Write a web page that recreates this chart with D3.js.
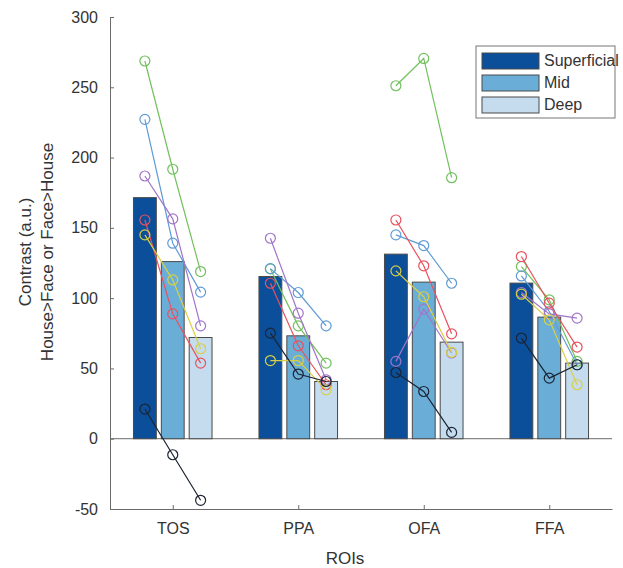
<!DOCTYPE html>
<html>
<head>
<meta charset="utf-8">
<script src="https://cdn.jsdelivr.net/npm/d3@7"></script>
<style>
	body { margin: 0; background: #fff; }
	text { font-family: 'Liberation Sans', Arial, sans-serif; }
</style>
</head>
<body>
<div id="chart"></div>
<script>
	const rois = ['TOS', 'PPA', 'OFA', 'FFA'];
	const depths = ['Superficial', 'Mid', 'Deep'];
	const yTicks = [-50, 0, 50, 100, 150, 200, 250, 300];

	// group means per depth
	const meanSuperficial = [171.5, 115.4, 131.3, 110.7];
	const meanMid = [126, 73.2, 111.4, 86.5];
	const meanDeep = [72, 40.7, 68.7, 53.8];

	// single subjects, [sup, mid, deep] per ROI
	const subjGreen = [[268.7, 191.7, 118.9], [120.8, 80.3, 53.8], [251.1, 270.5, 185.7], [122.5, 98.8, 55]];
	const subjBlue = [[227.2, 139.1, 104.3], [121, 104, 80.3], [145, 137.4, 110.6], [115.8, 90.5, 52.6]];
	const subjPurple = [[186.9, 156.4, 80.3], [142.6, 89.3, 41.9], [55, 92.2, 61], [104, 88.8, 85.8]];
	const subjRed = [[155.6, 88.8, 53.8], [110.6, 66.1, 38.4], [155.6, 123, 74.6], [129.6, 96.4, 65.2]];
	const subjYellow = [[145, 113, 64], [55.6, 55.6, 34.8], [119.4, 101, 61.4], [102.8, 84.6, 38.4]];
	const subjBlack = [[21.1, -11.4, -43.8], [75.1, 46, 40.7], [47.1, 33.6, 4.5], [71.6, 43.1, 52.6]];

	const barColors = ['#0b4f9a', '#6aaed8', '#c4dcee'];
	const subjects = [
		{ vals: subjGreen, color: '#72c05e' },
		{ vals: subjBlue, color: '#5f9bd6' },
		{ vals: subjPurple, color: '#a175c9' },
		{ vals: subjRed, color: '#e9515e' },
		{ vals: subjYellow, color: '#d9cf45' },
		{ vals: subjBlack, color: '#1c2433' },
	];
	const means = [meanSuperficial, meanMid, meanDeep];

	const width = 623, height = 568;
	const svg = d3
		.select('#chart')
		.append('svg')
		.attr('width', width)
		.attr('height', height);

	// scales (MATLAB-like xlim [0.5 4.5])
	const x = d3.scaleLinear().domain([0.5, 4.5]).range([110, 612]);
	const y = d3.scaleLinear().domain([-50, 300]).range([509, 17]);
	const offset = 0.222; // distance between bars within a group
	const barW = 0.182;
	const xPos = (i, j) => x(i + 1 + (j - 1) * offset);

	const axisColor = '#6b6b6b';
	const textColor = '#333';

	// zero line
	svg.append('line')
		.attr('x1', x(0.5)).attr('x2', x(4.5))
		.attr('y1', y(0)).attr('y2', y(0))
		.attr('stroke', axisColor)
		.attr('stroke-width', 1);

	// bars
	means.forEach((arr, j) => {
		svg.selectAll('.bar' + j)
			.data(arr)
			.enter()
			.append('rect')
			.attr('x', (d, i) => xPos(i, j) - (x(barW) - x(0)) / 2)
			.attr('width', x(barW) - x(0))
			.attr('y', (d) => y(Math.max(d, 0)))
			.attr('height', (d) => Math.abs(y(d) - y(0)))
			.attr('fill', barColors[j])
			.attr('stroke', '#4a4a4a')
			.attr('stroke-width', 1);
	});

	// subject lines and circles
	subjects.forEach((s) => {
		s.vals.forEach((trip, i) => {
			const pts = trip.map((v, j) => [xPos(i, j), y(v)]);
			svg.append('path')
				.datum(pts)
				.attr('fill', 'none')
				.attr('stroke', s.color)
				.attr('stroke-width', 1.2)
				.attr('d', d3.line());
			svg.selectAll(null)
				.data(pts)
				.enter()
				.append('circle')
				.attr('cx', (d) => d[0])
				.attr('cy', (d) => d[1])
				.attr('r', 5)
				.attr('fill', 'none')
				.attr('stroke', s.color)
				.attr('stroke-width', 1.2);
		});
	});

	// Y axis
	const yAxis = svg.append('g')
		.attr('transform', `translate(${x(0.5)},0)`)
		.call(d3.axisLeft(y).tickValues(yTicks).tickFormat((d) => String(d)).tickSizeInner(-4).tickSizeOuter(0).tickPadding(12));
	yAxis.select('.domain').attr('stroke', axisColor);
	yAxis.selectAll('.tick line').attr('stroke', axisColor);
	yAxis.selectAll('.tick text').attr('fill', textColor).style('font-size', '16px');

	// X axis
	const xAxis = svg.append('g')
		.attr('transform', `translate(0,${y(-50)})`)
		.call(d3.axisBottom(x).tickValues([1, 2, 3, 4]).tickFormat((d) => rois[d - 1]).tickSizeInner(-4).tickSizeOuter(0).tickPadding(14));
	xAxis.select('.domain').attr('stroke', axisColor);
	xAxis.selectAll('.tick line').attr('stroke', axisColor);
	xAxis.selectAll('.tick text').attr('fill', textColor).style('font-size', '16px');

	// axis labels
	svg.append('text')
		.attr('x', 345).attr('y', 564)
		.attr('text-anchor', 'middle')
		.attr('fill', textColor)
		.style('font-size', '17px')
		.text('ROIs');

	const yl = svg.append('g')
		.attr('transform', 'translate(31,252) rotate(-90)');
	yl.append('text')
		.attr('x', 0).attr('y', 0)
		.attr('text-anchor', 'middle')
		.attr('fill', textColor)
		.style('font-size', '17px')
		.text('Contrast (a.u.)');
	yl.append('text')
		.attr('x', 0).attr('y', 22)
		.attr('text-anchor', 'middle')
		.attr('fill', textColor)
		.style('font-size', '17px')
		.text('House>Face or Face>House');

	// legend
	const lg = svg.append('g');
	lg.append('rect')
		.attr('x', 476).attr('y', 46)
		.attr('width', 139).attr('height', 72)
		.attr('fill', '#fff')
		.attr('stroke', '#777')
		.attr('stroke-width', 1);
	depths.forEach((name, j) => {
		const ry = 53 + j * 22;
		lg.append('rect')
			.attr('x', 482).attr('y', ry)
			.attr('width', 57).attr('height', 16)
			.attr('fill', barColors[j])
			.attr('stroke', '#4a4a4a');
		lg.append('text')
			.attr('x', 544).attr('y', ry + 13)
			.attr('fill', textColor)
			.style('font-size', '16px')
			.text(name);
	});
</script>
</body>
</html>
